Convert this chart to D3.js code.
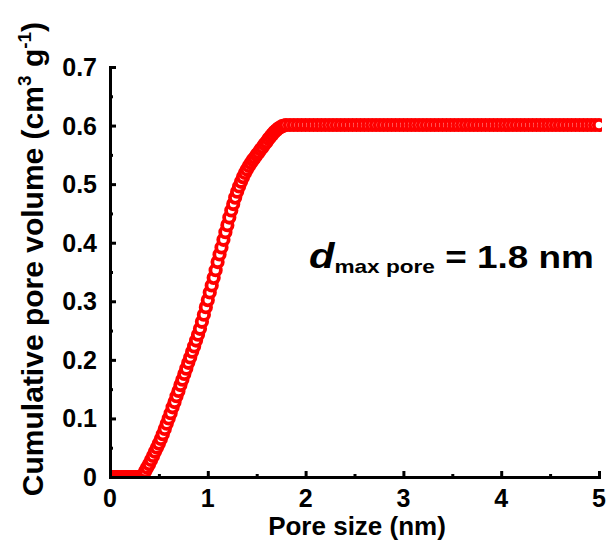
<!DOCTYPE html>
<html>
<head>
<meta charset="utf-8">
<script src="https://cdn.jsdelivr.net/npm/d3@7"></script>
<style>
  body { margin: 0; background: #fff; }
  svg { display: block; font-family: "Liberation Sans", Arial, sans-serif; font-weight: bold; }
</style>
</head>
<body>
<svg id="chart" width="614" height="542"></svg>
<script>
// pore size (nm) and cumulative pore volume (cm3/g)
const poreSize = [
  0.00, 0.02, 0.04, 0.06, 0.08, 0.10, 0.12, 0.14, 0.16, 0.18, 0.20, 0.22, 0.24, 0.26, 0.28, 0.30,
  0.32, 0.34, 0.36, 0.38, 0.40, 0.42, 0.44, 0.46, 0.48, 0.50, 0.52, 0.54, 0.56, 0.58, 0.60,
  0.62, 0.64, 0.66, 0.68, 0.70, 0.72, 0.74, 0.76, 0.78, 0.80, 0.82, 0.84, 0.86, 0.88, 0.90,
  0.92, 0.94, 0.96, 0.98, 1.00, 1.02, 1.04, 1.06, 1.08, 1.10, 1.12, 1.14, 1.16, 1.18, 1.20,
  1.22, 1.24, 1.26, 1.28, 1.30, 1.32, 1.34, 1.36, 1.38, 1.40, 1.42, 1.44, 1.46, 1.48, 1.50,
  1.52, 1.54, 1.56, 1.58, 1.60, 1.62, 1.64, 1.66, 1.68, 1.70, 1.72, 1.74, 1.76, 1.78, 1.80,
  1.84, 1.88, 1.92, 1.96, 2.00, 2.04, 2.08, 2.12, 2.16, 2.20, 2.24, 2.28, 2.32, 2.36, 2.40,
  2.44, 2.48, 2.52, 2.56, 2.60, 2.64, 2.68, 2.72, 2.76, 2.80, 2.84, 2.88, 2.92, 2.96, 3.00,
  3.04, 3.08, 3.12, 3.16, 3.20, 3.24, 3.28, 3.32, 3.36, 3.40, 3.44, 3.48, 3.52, 3.56, 3.60,
  3.64, 3.68, 3.72, 3.76, 3.80, 3.84, 3.88, 3.92, 3.96, 4.00, 4.04, 4.08, 4.12, 4.16, 4.20,
  4.24, 4.28, 4.32, 4.36, 4.40, 4.44, 4.48, 4.52, 4.56, 4.60, 4.64, 4.68, 4.72, 4.76, 4.80,
  4.84, 4.88, 4.92, 4.96, 5.00
];
const poreVolume = [
  0, 0, 0, 0, 0, 0, 0, 0, 0, 0, 0, 0, 0, 0, 0, 0,
  0.000, 0.004, 0.010, 0.016, 0.022, 0.029, 0.036, 0.043, 0.050, 0.057, 0.065, 0.073, 0.082, 0.091, 0.100,
  0.109, 0.119, 0.128, 0.138, 0.147, 0.157, 0.166, 0.176, 0.185, 0.195, 0.204, 0.214, 0.223, 0.233, 0.243,
  0.253, 0.265, 0.277, 0.290, 0.302, 0.315, 0.327, 0.340, 0.353, 0.367, 0.380, 0.392, 0.405, 0.418, 0.430,
  0.443, 0.455, 0.466, 0.477, 0.487, 0.496, 0.504, 0.512, 0.519, 0.525, 0.531, 0.536, 0.541, 0.545, 0.550,
  0.554, 0.559, 0.563, 0.568, 0.572, 0.577, 0.581, 0.585, 0.589, 0.592, 0.595, 0.597, 0.599, 0.600, 0.601,
  0.601, 0.601, 0.601, 0.601, 0.601, 0.601, 0.601, 0.601, 0.601, 0.601, 0.601, 0.601, 0.601, 0.601, 0.601,
  0.601, 0.601, 0.601, 0.601, 0.601, 0.601, 0.601, 0.601, 0.601, 0.601, 0.601, 0.601, 0.601, 0.601, 0.601,
  0.601, 0.601, 0.601, 0.601, 0.601, 0.601, 0.601, 0.601, 0.601, 0.601, 0.601, 0.601, 0.601, 0.601, 0.601,
  0.601, 0.601, 0.601, 0.601, 0.601, 0.601, 0.601, 0.601, 0.601, 0.601, 0.601, 0.601, 0.601, 0.601, 0.601,
  0.601, 0.601, 0.601, 0.601, 0.601, 0.601, 0.601, 0.601, 0.601, 0.601, 0.601, 0.601, 0.601, 0.601, 0.601,
  0.601, 0.601, 0.601, 0.601, 0.601
];
const xTicks = [0, 1, 2, 3, 4, 5];
const yTicks = [0, 0.1, 0.2, 0.3, 0.4, 0.5, 0.6, 0.7];
const yTickLabels = ["0", "0.1", "0.2", "0.3", "0.4", "0.5", "0.6", "0.7"];

function main() {
  const svg = d3.select("#chart");
  const x = d3.scaleLinear().domain([0, 5]).range([110, 599]);
  const y = d3.scaleLinear().domain([0, 0.7]).range([477, 67]);
  const data = poreSize.map((d, i) => ({ size: d, vol: poreVolume[i] }));

  drawData(svg, data, x, y);
  drawAxes(svg, x, y);
  drawLabels(svg);
}

function drawData(svg, data, x, y) {
  svg.append("clipPath").attr("id", "plotClip")
    .append("rect")
    .attr("x", x(0)).attr("y", y(0.7) - 20)
    .attr("width", x(5) - x(0) + 3).attr("height", y(0) - y(0.7) + 20);

  svg.append("g")
    .attr("clip-path", "url(#plotClip)")
    .selectAll("circle")
    .data(data)
    .join("circle")
    .attr("cx", d => x(d.size))
    .attr("cy", d => y(d.vol))
    .attr("r", 5.2)
    .attr("fill", "#fff")
    .attr("stroke", "#ff0000")
    .attr("stroke-width", 3.8);
}

function drawAxes(svg, x, y) {
  // ticks point inward, like the Origin default
  const xAxis = svg.append("g")
    .attr("transform", `translate(0,${y(0)})`)
    .call(d3.axisBottom(x).tickValues(d3.range(0, 5.01, 0.5)).tickSize(-6).tickFormat(""));
  xAxis.selectAll(".tick line")
    .attr("y2", (d, i) => i % 2 === 0 ? -6 : -3);

  const yAxis = svg.append("g")
    .attr("transform", `translate(${x(0)},0)`)
    .call(d3.axisLeft(y).tickValues(d3.range(0, 0.701, 0.05)).tickSize(-6).tickFormat(""));
  yAxis.selectAll(".tick line")
    .attr("x2", (d, i) => i % 2 === 0 ? 6 : 3);

  svg.selectAll(".domain").attr("stroke", "#000").attr("stroke-width", 3);
  svg.selectAll(".tick line").attr("stroke", "#000").attr("stroke-width", 3);

  svg.append("g").selectAll("text")
    .data(xTicks)
    .join("text")
    .attr("x", d => x(d))
    .attr("y", 507)
    .attr("text-anchor", "middle")
    .attr("font-size", 25)
    .text(d => d);

  svg.append("g").selectAll("text")
    .data(yTicks)
    .join("text")
    .attr("x", 97)
    .attr("y", d => y(d) + 9)
    .attr("text-anchor", "end")
    .attr("font-size", 25)
    .text((d, i) => yTickLabels[i]);
}

function drawLabels(svg) {
  svg.append("text")
    .attr("x", 357)
    .attr("y", 535)
    .attr("text-anchor", "middle")
    .attr("font-size", 26)
    .text("Pore size (nm)");

  const yTitle = svg.append("text")
    .attr("transform", "translate(43,259) rotate(-90)")
    .attr("text-anchor", "middle")
    .attr("font-size", 30);
  yTitle.append("tspan").text("Cumulative pore volume (cm");
  yTitle.append("tspan").attr("font-size", 19).attr("dy", -12).text("3");
  yTitle.append("tspan").attr("dy", 12).text(" g");
  yTitle.append("tspan").attr("font-size", 19).attr("dy", -12).text("-1");
  yTitle.append("tspan").attr("dy", 12).text(")");

  const note = svg.append("text")
    .attr("transform", "translate(309,268) scale(1.19,1)");
  note.append("tspan").attr("font-size", 35).attr("font-style", "italic").text("d");
  note.append("tspan").attr("font-size", 19).attr("dy", 5).text("max pore");
  note.append("tspan").attr("font-size", 31).attr("dy", -5).text(" = 1.8 nm");
}

main();
</script>
</body>
</html>
